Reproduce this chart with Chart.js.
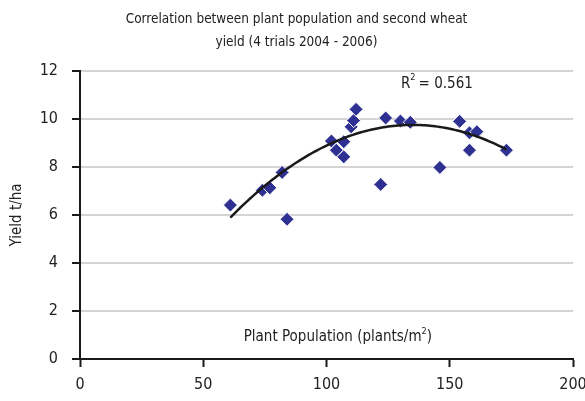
<!DOCTYPE html>
<html>
<head>
<meta charset="utf-8">
<script src="https://cdn.jsdelivr.net/npm/chart.js@4"></script>
<style>
  html, body { margin: 0; padding: 0; background: #fff; }
  #wrap { width: 585px; height: 401px; }
</style>
</head>
<body>
<div id="wrap"><canvas id="myChart" width="585" height="401"></canvas></div>
<script>
// plant population (plants/m2) and yield (t/ha)
const population = [61, 74, 77, 82, 84, 102, 104, 107, 107, 110, 111, 112, 122, 124, 130, 134, 154, 158, 161, 158, 173, 146];
const yieldTha = [6.41, 7.03, 7.13, 7.77, 5.82, 9.08, 8.70, 9.05, 8.42, 9.67, 9.93, 10.40, 7.27, 10.04, 9.91, 9.86, 9.90, 9.42, 9.47, 8.70, 8.70, 7.98];

const xTicks = [0, 50, 100, 150, 200];
const yTicks = [0, 2, 4, 6, 8, 10, 12];

const titleLines = ["Correlation between plant population and second wheat", "yield (4 trials 2004 - 2006)"];
const rSquared = "0.561";

// polynomial trendline (order 2) as drawn in the picture: a + b*x + c*x^2
const trendCoef = [-3.10, 0.1905, -0.000706];

const FONT = "'Liberation Sans Narrow', 'DejaVu Sans Condensed', sans-serif";

const xMin = Math.min(...population);
const xMax = Math.max(...population);
let trend = [];
for (let x = xMin; x <= xMax; x += 1) {
    trend.push({ x: x, y: trendCoef[0] + trendCoef[1] * x + trendCoef[2] * x * x });
}

const points = population.map((p, i) => ({ x: p, y: yieldTha[i] }));

// text that sits inside the plot area
const innerLabels = {
    id: "innerLabels",
    afterDraw(chart) {
        const ctx = chart.ctx;
        const xs = chart.scales.x;
        const ys = chart.scales.y;
        ctx.save();
        ctx.fillStyle = "#222";
        ctx.textBaseline = "middle";
        ctx.textAlign = "left";

        const big = "15px " + FONT;
        const small = "9px " + FONT;

        const px = xs.getPixelForValue(104.6);
        const py = ys.getPixelForValue(0.9);
        const main = "Plant Population (plants/m";
        ctx.font = big;
        const w1 = ctx.measureText(main).width;
        const w2 = ctx.measureText(")").width;
        ctx.font = small;
        const wsup = ctx.measureText("2").width;
        const start = px - (w1 + wsup + w2) / 2;
        ctx.font = big;
        ctx.fillText(main, start, py);
        ctx.font = small;
        ctx.fillText("2", start + w1, py - 6);
        ctx.font = big;
        ctx.fillText(")", start + w1 + wsup, py);

        // R squared
        const rx = xs.getPixelForValue(130.2);
        const ry = ys.getPixelForValue(11.45);
        ctx.fillText("R", rx, ry);
        const wr = ctx.measureText("R").width;
        ctx.font = small;
        ctx.fillText("2", rx + wr, ry - 6);
        ctx.font = big;
        ctx.fillText(" = " + rSquared, rx + wr + 4, ry);
        ctx.restore();
    }
};

new Chart("myChart", {
    type: "scatter",
    data: {
        datasets: [{
            label: "yield",
            data: points,
            pointStyle: "rectRot",
            pointRadius: 7,
            pointHoverRadius: 7,
            backgroundColor: "#2e3192",
            borderColor: "#ffffff",
            borderWidth: 1,
            order: 2
        }, {
            label: "trend",
            data: trend,
            showLine: true,
            pointRadius: 0,
            borderColor: "#1a1a1a",
            borderWidth: 2.5,
            tension: 0,
            order: 1
        }]
    },
    options: {
        responsive: false,
        animation: false,
        layout: { padding: { left: 8, right: 0, top: 0, bottom: 0 } },
        plugins: {
            legend: { display: false },
            tooltip: { enabled: false },
            title: {
                display: true,
                text: titleLines,
                color: "#222",
                font: { family: FONT, size: 13.5, weight: "normal", lineHeight: 1.7 },
                padding: { top: 8, bottom: 17 }
            }
        },
        scales: {
            x: {
                type: "linear",
                min: 0,
                max: 200,
                afterBuildTicks: s => { s.ticks = xTicks.map(v => ({ value: v })); },
                afterFit: s => { s.height = 42; s.paddingRight = 12; s.paddingLeft = 0; },
                border: { color: "#1a1a1a", width: 2 },
                grid: { drawOnChartArea: false, tickLength: 8, tickColor: "#1a1a1a", tickWidth: 2 },
                ticks: { color: "#222", font: { family: FONT, size: 16 }, padding: 8 }
            },
            y: {
                type: "linear",
                min: 0,
                max: 12,
                afterBuildTicks: s => { s.ticks = yTicks.map(v => ({ value: v })); },
                afterFit: s => { s.width = 72; },
                border: { color: "#1a1a1a", width: 2 },
                grid: { color: "#d4d4d4", lineWidth: 2, tickLength: 8, tickColor: "#1a1a1a", tickWidth: 2 },
                ticks: { color: "#222", font: { family: FONT, size: 16 }, padding: 14 },
                title: { display: true, text: "Yield t/ha", color: "#222", font: { family: FONT, size: 15 }, padding: 0 }
            }
        }
    },
    plugins: [innerLabels]
});
</script>
</body>
</html>
